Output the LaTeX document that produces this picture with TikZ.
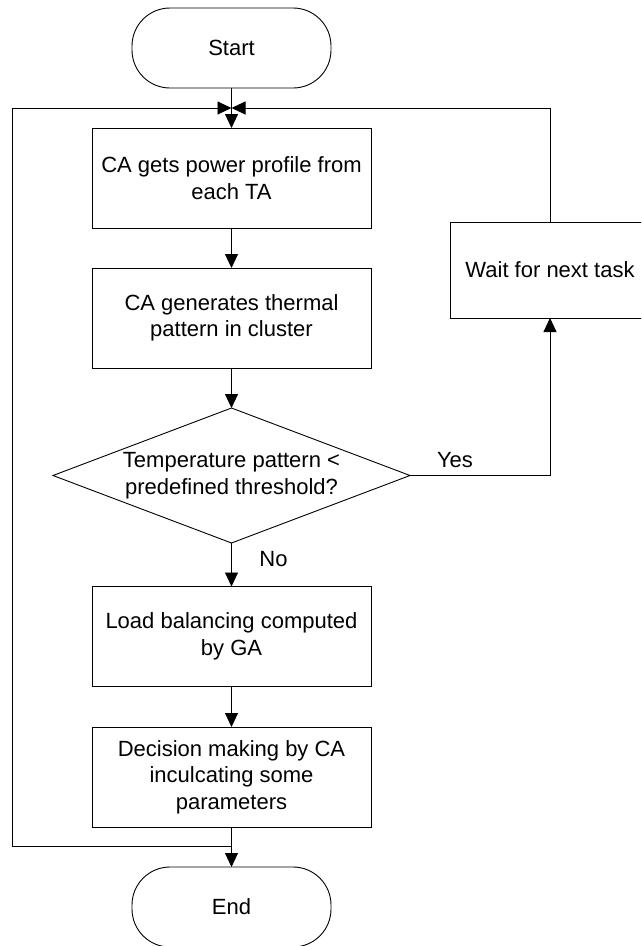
\documentclass[tikz,border=0pt]{standalone}
\usepackage{fontspec}
\setmainfont{Liberation Sans}
\usetikzlibrary{arrows.meta,shapes.geometric}
\begin{document}
\begin{tikzpicture}[x=1pt,y=-1pt,
  every node/.style={font=\fontsize{22}{26.5}\selectfont, inner sep=0pt, outer sep=0pt},
  line/.style={draw=black, line width=0.9pt},
  arr/.style={line, -{Triangle[length=14pt,width=13pt]}},
  proc/.style={line, rectangle, minimum width=279pt, minimum height=100pt, align=center},
  term/.style={line, rectangle, rounded corners=38pt, minimum width=199pt, minimum height=80pt},
  dec/.style={line, diamond, minimum width=357pt, minimum height=135pt},
  txt/.style={align=center}
]
\clip (0,0) rectangle (641,946);
\fill[white] (0,0) rectangle (641,946);

\node[term] (start) at (231.5,48) {Start};
\node[proc] (b1) at (231.5,178) {CA gets power profile from\\each TA};
\node[proc] (b2) at (231.5,318) {CA generates thermal\\pattern in cluster};
\node[dec] (d) at (231.5,475.5) {};
\node[txt] (dt) at (231.5,475.5) {Temperature pattern <\\predefined threshold?};
\node[proc] (b3) at (231.5,636.5) {Load balancing computed\\by GA};
\node[proc] (b4) at (231.5,777) {Decision making by CA\\inculcating some\\parameters};
\node[term] (end) at (231.5,907) {End};
\node[line, rectangle, minimum width=200pt, minimum height=96pt] (wait) at (550,270) {};
\node[txt] (waitt) at (550,270) {Wait for next task};

\node (yes) at (455,460) {Yes};
\node (no) at (273.5,559.5) {No};

\coordinate (jt) at (231.5,108);
\coordinate (jb) at (231.5,846);
\coordinate (lb) at (12,846);
\coordinate (lt) at (12,108);
\coordinate (rt) at (550,108);

\draw[arr] (start.south) -- (b1.north);
\draw[arr] (b1.south) -- (b2.north);
\draw[arr] (b2.south) -- (d.north);
\draw[arr] (d.south) -- (b3.north);
\draw[arr] (b3.south) -- (b4.north);
\draw[arr] (b4.south) -- (end.north);
\draw[arr] (d.east) -| (wait.south);
\draw[arr] (wait.north) -- (rt) -- (jt);
\draw[arr] (jb) -- (lb) -- (lt) -- (jt);
\end{tikzpicture}
\end{document}
